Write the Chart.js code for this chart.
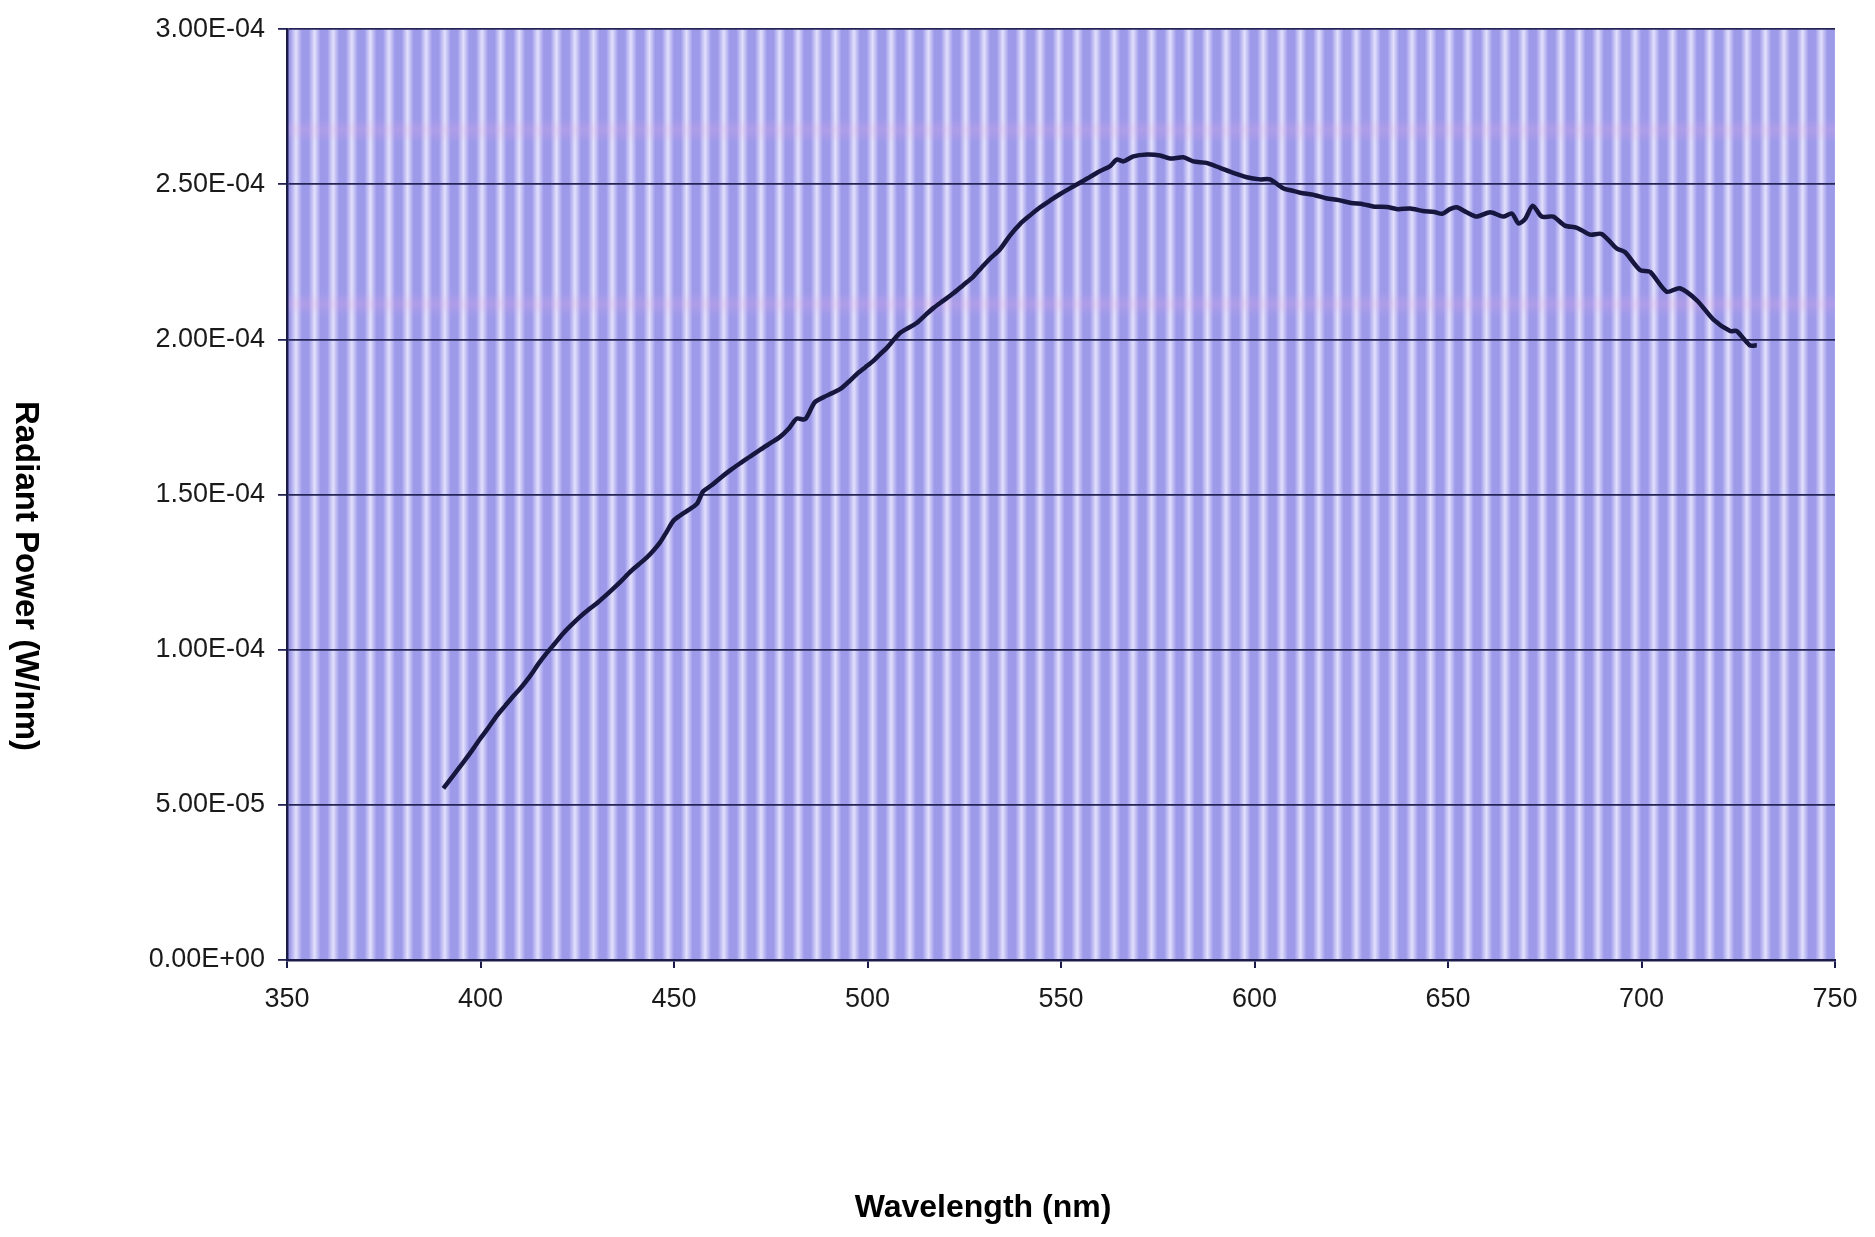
<!DOCTYPE html>
<html>
<head>
<meta charset="utf-8">
<script src="https://cdn.jsdelivr.net/npm/chart.js@4.4.1/dist/chart.umd.min.js"></script>
<style>
  html, body { margin: 0; padding: 0; background: #ffffff; }
  #wrap { width: 1875px; height: 1237px; position: relative; }
  canvas { display: block; }
</style>
</head>
<body>
<div id="wrap"><canvas id="c" width="1875" height="1237"></canvas></div>
<script>
// ---- data ----
const wavelengths = [
  390.4, 393.0, 395.6, 397.8, 399.9, 402.0, 404.2, 406.4, 408.5, 410.6,
  412.8, 415.0, 417.1, 419.2, 421.4, 423.5, 425.7, 427.8, 430.0, 432.1,
  434.3, 436.4, 438.6, 440.8, 443.0, 444.7, 446.4, 448.1, 449.8, 451.5,
  453.3, 455.9, 457.5, 459.7, 461.9, 464.5, 467.1, 469.6, 472.2, 474.8,
  477.4, 479.6, 481.7, 483.9, 486.4, 489.5, 492.9, 495.0, 497.2, 499.4,
  501.5, 503.2, 505.0, 506.7, 508.4, 510.5, 512.7, 514.8, 517.0, 519.6,
  522.2, 524.7, 527.3, 529.5, 531.7, 534.2, 536.8, 539.4, 542.0, 544.6,
  547.2, 549.7, 552.3, 554.9, 557.5, 560.1, 562.7, 564.4, 566.1, 568.7,
  572.2, 575.6, 578.2, 581.6, 584.2, 587.6, 591.1, 594.5, 598.0, 601.4,
  604.0, 607.4, 609.6, 611.8, 615.6, 618.5, 621.8, 625.0, 628.0, 631.0,
  634.2, 637.0, 640.3, 643.5, 646.5, 648.5, 650.5, 652.2, 654.8, 657.4,
  660.9, 664.3, 666.5, 668.2, 669.9, 671.9, 674.2, 677.2, 680.2, 683.3,
  686.7, 689.7, 693.6, 695.7, 699.6, 702.2, 706.5, 709.9, 714.3, 718.6,
  722.9, 724.6, 728.0, 729.8
];
const radiantPower = [
  5.53e-5, 5.95e-5, 6.38e-5, 6.75e-5, 7.13e-5, 7.48e-5, 7.87e-5, 8.20e-5, 8.51e-5, 8.80e-5,
  9.15e-5, 9.55e-5, 9.89e-5, 1.020e-4, 1.053e-4, 1.080e-4, 1.106e-4, 1.128e-4, 1.149e-4, 1.172e-4,
  1.197e-4, 1.222e-4, 1.250e-4, 1.274e-4, 1.298e-4, 1.320e-4, 1.346e-4, 1.380e-4, 1.415e-4, 1.432e-4,
  1.447e-4, 1.470e-4, 1.510e-4, 1.530e-4, 1.553e-4, 1.578e-4, 1.601e-4, 1.622e-4, 1.644e-4, 1.665e-4,
  1.686e-4, 1.712e-4, 1.745e-4, 1.743e-4, 1.798e-4, 1.819e-4, 1.840e-4, 1.862e-4, 1.888e-4, 1.910e-4,
  1.931e-4, 1.952e-4, 1.973e-4, 1.998e-4, 2.021e-4, 2.037e-4, 2.053e-4, 2.077e-4, 2.101e-4, 2.125e-4,
  2.149e-4, 2.175e-4, 2.202e-4, 2.232e-4, 2.261e-4, 2.290e-4, 2.335e-4, 2.372e-4, 2.400e-4, 2.426e-4,
  2.448e-4, 2.468e-4, 2.487e-4, 2.505e-4, 2.524e-4, 2.543e-4, 2.559e-4, 2.580e-4, 2.574e-4, 2.590e-4,
  2.596e-4, 2.593e-4, 2.583e-4, 2.587e-4, 2.574e-4, 2.569e-4, 2.553e-4, 2.537e-4, 2.523e-4, 2.516e-4,
  2.516e-4, 2.487e-4, 2.480e-4, 2.473e-4, 2.465e-4, 2.455e-4, 2.449e-4, 2.440e-4, 2.436e-4, 2.428e-4,
  2.427e-4, 2.420e-4, 2.422e-4, 2.414e-4, 2.411e-4, 2.405e-4, 2.420e-4, 2.426e-4, 2.410e-4, 2.396e-4,
  2.410e-4, 2.396e-4, 2.406e-4, 2.374e-4, 2.388e-4, 2.431e-4, 2.396e-4, 2.396e-4, 2.367e-4, 2.360e-4,
  2.338e-4, 2.340e-4, 2.293e-4, 2.282e-4, 2.224e-4, 2.218e-4, 2.154e-4, 2.165e-4, 2.126e-4, 2.064e-4,
  2.027e-4, 2.027e-4, 1.981e-4, 1.981e-4
];
const xTickValues = [350, 400, 450, 500, 550, 600, 650, 700, 750];
const yTickValues = [0, 5e-5, 1e-4, 1.5e-4, 2e-4, 2.5e-4, 3e-4];
const xAxisTitle = 'Wavelength (nm)';
const yAxisTitle = 'Radiant Power (W/nm)';

// ---- helpers ----
function sciLabel(v) {
  if (Math.abs(v) < 1e-12) return '0.00E+00';
  const s = Number(v).toExponential(2);       // e.g. 3.00e-4
  const [m, e] = s.split('e');
  const sign = e[0] === '-' ? '-' : '+';
  const digits = e.replace(/[+-]/, '').padStart(2, '0');
  return m + 'E' + sign + digits;
}

const FONT = "'Liberation Sans', Arial, Helvetica, sans-serif";
const INK = '#1b1b4a';

const stripeBackground = {
  id: 'stripeBackground',
  beforeDraw(chart) {
    const { ctx, chartArea: a } = chart;
    ctx.save();
    ctx.fillStyle = '#ffffff';
    ctx.fillRect(0, 0, chart.width, chart.height);
    ctx.fillStyle = 'rgb(158,154,234)';
    ctx.fillRect(a.left, a.top, a.right - a.left, a.bottom - a.top);
    const period = 18.6;
    for (let x = a.left + 3; x < a.right; x += period) {
      const w = 12;
      const g = ctx.createLinearGradient(x, 0, x + w, 0);
      g.addColorStop(0, 'rgba(232,230,253,0)');
      g.addColorStop(0.5, 'rgba(232,230,253,0.92)');
      g.addColorStop(1, 'rgba(232,230,253,0)');
      ctx.fillStyle = g;
      ctx.fillRect(x, a.top, Math.min(w, a.right - x), a.bottom - a.top);
    }
    // faint pinkish scan bands
    const bands = [[118, 24], [292, 24]];
    for (const [y, h] of bands) {
      const g = ctx.createLinearGradient(0, y, 0, y + h);
      g.addColorStop(0, 'rgba(235,170,225,0)');
      g.addColorStop(0.5, 'rgba(235,170,225,0.22)');
      g.addColorStop(1, 'rgba(235,170,225,0)');
      ctx.fillStyle = g;
      ctx.fillRect(a.left, y, a.right - a.left, h);
    }
    ctx.restore();
  }
};

const axisTitles = {
  id: 'axisTitles',
  afterDraw(chart) {
    const { ctx } = chart;
    ctx.save();
    ctx.fillStyle = '#000000';
    ctx.font = 'bold 32px ' + FONT;
    ctx.textAlign = 'center';
    ctx.textBaseline = 'middle';
    ctx.fillText(xAxisTitle, 983, 1208);
    ctx.font = 'bold 33px ' + FONT;
    ctx.translate(25, 576);
    ctx.rotate(Math.PI / 2);
    ctx.fillText(yAxisTitle, 0, 0);
    ctx.restore();
  }
};

new Chart(document.getElementById('c'), {
  type: 'line',
  data: {
    datasets: [{
      data: wavelengths.map((x, i) => ({ x, y: radiantPower[i] })),
      borderColor: '#16163f',
      borderWidth: 4.5,
      pointRadius: 0,
      tension: 0.25,
      fill: false
    }]
  },
  options: {
    responsive: false,
    animation: false,
    events: [],
    layout: { padding: { top: 20, right: 40, left: 0, bottom: 0 } },
    plugins: { legend: { display: false }, tooltip: { enabled: false }, title: { display: false } },
    scales: {
      x: {
        type: 'linear',
        min: 350, max: 750,
        afterBuildTicks: s => { s.ticks = xTickValues.map(v => ({ value: v })); },
        afterFit: s => { s.height = 277; },
        border: { display: true, color: INK, width: 2.5 },
        grid: { drawOnChartArea: false, drawTicks: true, tickLength: 8, color: INK, lineWidth: 2 },
        ticks: {
          padding: 15, color: '#1a1a1a', maxRotation: 0,
          font: { family: FONT, size: 27 },
          callback: v => String(v)
        }
      },
      y: {
        type: 'linear',
        min: 0, max: 3e-4,
        afterBuildTicks: s => { s.ticks = yTickValues.map(v => ({ value: v })); },
        afterFit: s => { s.width = 287; },
        border: { display: true, color: INK, width: 2.5 },
        grid: { drawOnChartArea: true, drawTicks: true, tickLength: 9, color: '#242457', lineWidth: 1.8 },
        ticks: {
          padding: 13, color: '#1a1a1a',
          font: { family: FONT, size: 27 },
          callback: v => sciLabel(v)
        }
      }
    }
  },
  plugins: [stripeBackground, axisTitles]
});
</script>
</body>
</html>
